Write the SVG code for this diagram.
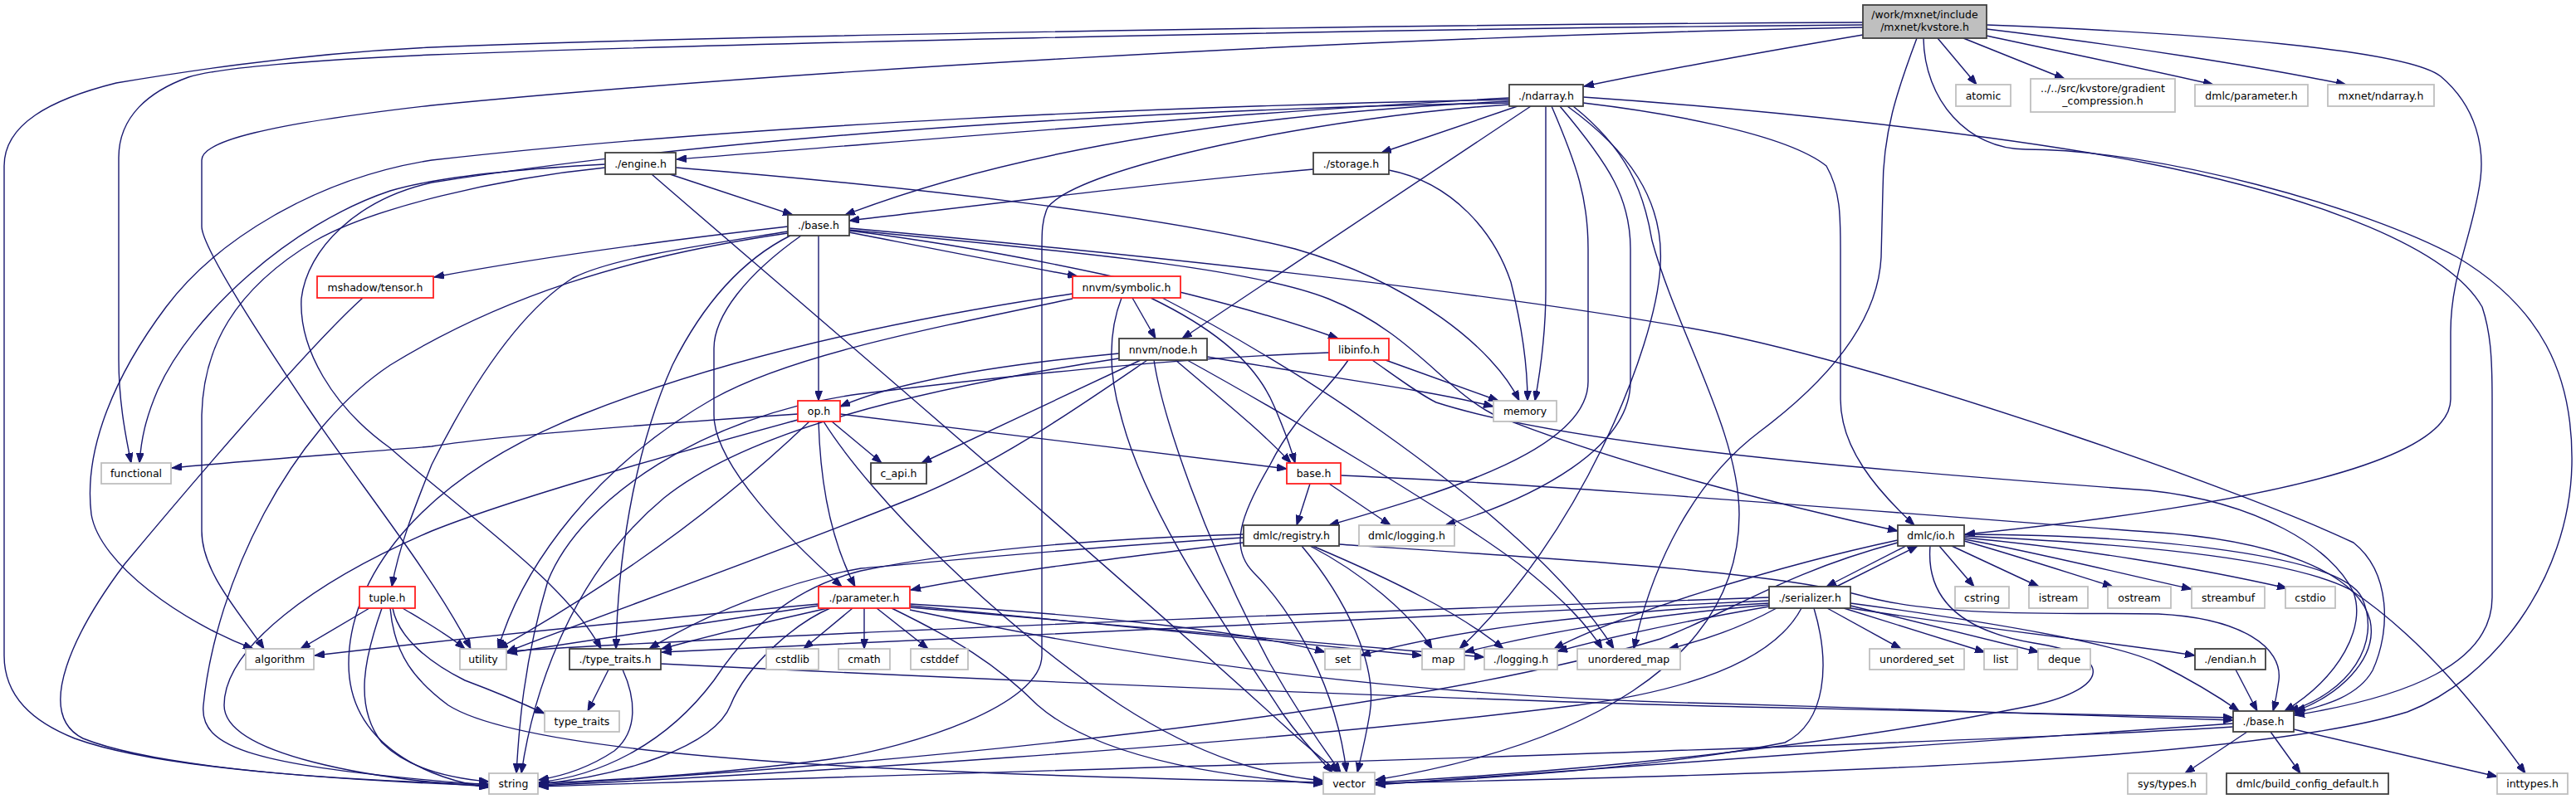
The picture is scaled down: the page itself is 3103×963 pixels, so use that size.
<svg xmlns="http://www.w3.org/2000/svg" width="3103" height="963" viewBox="0 0 3103 963">
<defs>
<marker id="a" markerUnits="userSpaceOnUse" markerWidth="13" markerHeight="9" refX="12" refY="4.5" orient="auto"><path d="M0,0 L12,4.5 L0,9 z" fill="#191970" stroke="#191970" stroke-width="1"/></marker>
<style>
.e path{fill:none;stroke:#191970;stroke-width:1.4;marker-end:url(#a)}
.n rect{fill:#fff;stroke-width:1.8}
.k rect{stroke:#404040}
.r rect{stroke:#ff2020}
.g rect{stroke:#bfbfbf}
.root rect{fill:#bfbfbf;stroke:#404040}
text{font-family:"DejaVu Sans","Liberation Sans",sans-serif;font-size:12.5px;text-anchor:middle;fill:#000}
</style>
</defs>
<rect width="3103" height="963" fill="#fff"/>
<g id="edges" class="e">
<path d="M2244,42 C2150,58 2000,85 1908,104"/>
<path d="M2334,46 L2381,102"/>
<path d="M2365,46 L2487,95"/>
<path d="M2393,43 C2480,62 2580,82 2666,102"/>
<path d="M2393,35 C2560,55 2720,80 2826,102"/>
<path d="M2393,30 C2650,40 2900,60 2940,92 C2985,130 2992,180 2988,215 C2980,280 2952,330 2952,400 L2952,481 C2952,560 2700,610 2367,644"/>
<path d="M2317,46 C2318,120 2370,180 2440,180 C2600,180 2850,250 2960,310 C3060,370 3100,450 3098,560 C3095,700 3000,820 2900,858 C2700,920 2100,935 1657,944"/>
<path d="M2309,46 C2285,110 2268,160 2268,230 L2266,310 C2262,390 2200,460 2120,520 C2040,580 1990,680 1968,782"/>
<path d="M2244,27 C1600,30 800,45 520,57 C350,65 200,90 140,100 C60,120 5,150 5,200 L5,790 C5,840 40,870 90,890 C200,930 450,942 589,945"/>
<path d="M2244,30 C1600,35 800,55 520,66 C380,72 260,82 227,93 C180,110 143,140 143,190 L143,433 C143,480 150,520 158,558"/>
<path d="M2244,33 C1600,45 900,90 520,127 C320,150 243,170 243,193 L243,273 C243,300 330,430 370,490 C430,580 520,690 567,782"/>
<path d="M1828,128 L1664,184"/>
<path d="M1818,118 C1500,135 1100,170 815,192"/>
<path d="M1818,122 C1550,135 1250,170 1018,259"/>
<path d="M1844,128 L1424,408"/>
<path d="M1862,128 L1862,350 C1862,400 1855,450 1849,483"/>
<path d="M1869,128 C1900,200 1913,240 1913,300 L1913,460 C1913,540 1750,590 1601,633"/>
<path d="M1879,128 C1940,200 1964,240 1964,300 L1964,460 C1964,540 1850,600 1741,633"/>
<path d="M1888,128 C1960,180 2005,240 2000,320 C1995,420 1900,650 1758,782"/>
<path d="M1895,128 C1960,180 1980,230 1990,290 C2020,400 2095,520 2095,620 C2095,800 1900,900 1657,940"/>
<path d="M1907,124 C2000,135 2150,160 2200,200 C2217,230 2217,260 2217,300 L2217,481 C2217,540 2260,590 2306,633"/>
<path d="M1907,117 C2100,130 2400,160 2588,197 C2800,240 2950,300 2990,370 C3000,400 3002,430 3002,480 L3002,720 C3002,800 2900,840 2764,862"/>
<path d="M1818,126 C1600,140 1300,200 1262,250 C1255,265 1255,280 1255,300 L1255,790 C1255,850 1100,900 1000,915 C850,935 700,942 649,944"/>
<path d="M1818,120 C1400,128 900,150 520,193 C380,215 260,290 200,370 C140,450 100,540 110,620 C120,680 220,750 305,782"/>
<path d="M1818,124 C1400,132 900,160 520,220 C430,240 370,300 363,360 C360,420 400,490 470,540 C560,620 680,700 724,782"/>
<path d="M807,210 L955,259"/>
<path d="M814,202 C1100,225 1400,260 1560,300 C1700,340 1800,420 1830,483"/>
<path d="M785,210 C900,310 1300,650 1554,881 C1580,905 1600,920 1612,931"/>
<path d="M729,198 C600,205 520,215 470,230 C350,270 230,380 190,470 C175,505 170,530 168,558"/>
<path d="M729,202 C600,215 450,250 380,290 C280,350 245,420 243,500 L243,640 C243,690 290,740 318,782"/>
<path d="M986,284 L986,483"/>
<path d="M949,273 C800,290 650,310 523,334"/>
<path d="M949,279 C850,295 740,310 690,335 C620,380 560,480 520,560 C500,610 480,660 472,707"/>
<path d="M949,281 C750,310 600,360 470,440 C350,520 260,700 245,850 C240,900 300,925 589,946"/>
<path d="M952,284 C900,310 850,360 810,440 C770,530 745,650 742,782"/>
<path d="M965,284 C900,330 860,380 860,420 L860,500 C860,560 950,650 1014,707"/>
<path d="M1023,280 C1100,295 1200,315 1298,333"/>
<path d="M1023,278 C1200,300 1450,350 1612,408"/>
<path d="M1023,275 C1300,300 1800,350 2071,402 C2300,450 2700,590 2835,654 C2880,690 2880,760 2858,808 C2840,840 2800,850 2763,860"/>
<path d="M1023,277 C1250,300 1500,320 1600,360 C1700,400 1740,470 1800,500 C1950,560 2150,610 2286,640"/>
<path d="M1582,204 C1400,220 1200,245 1023,266"/>
<path d="M1673,205 C1750,220 1800,280 1820,340 C1835,400 1840,450 1840,483"/>
<path d="M437,359 C380,410 250,560 150,680 C90,760 40,860 100,890 C200,930 450,942 589,947"/>
<path d="M1364,359 L1392,408"/>
<path d="M1292,354 C1050,390 850,440 700,500 C500,580 420,700 420,800 C420,900 520,940 589,949"/>
<path d="M1292,360 C1100,400 950,430 860,480 C720,560 630,680 600,782"/>
<path d="M1351,359 C1335,400 1335,450 1350,500 C1380,620 1480,760 1545,860 C1570,895 1590,915 1605,931"/>
<path d="M1386,359 C1450,390 1510,430 1535,490 C1548,520 1555,540 1560,558"/>
<path d="M1400,359 C1480,400 1580,460 1650,510 C1750,580 1880,680 1944,782"/>
<path d="M1348,426 C1200,440 1080,460 1012,490"/>
<path d="M1374,434 L1110,558"/>
<path d="M1382,434 C1300,490 1200,560 1100,600 C900,680 700,750 610,786"/>
<path d="M1348,432 C1100,470 900,520 800,600 C680,700 640,850 628,932"/>
<path d="M1454,430 C1600,455 1720,470 1799,490"/>
<path d="M1390,434 C1400,500 1450,650 1530,800 C1570,870 1600,910 1615,931"/>
<path d="M1416,434 C1470,480 1520,520 1555,558"/>
<path d="M1430,434 C1550,500 1750,620 1830,680 C1880,720 1910,750 1930,782"/>
<path d="M1669,434 L1805,483"/>
<path d="M1653,434 C1690,460 1710,475 1730,485 C1900,540 2300,570 2588,591 C2720,605 2810,660 2835,714 C2850,755 2820,815 2752,857"/>
<path d="M1601,425 C1400,432 1200,455 1034,475 C850,500 700,600 660,700 C630,800 625,880 622,932"/>
<path d="M1624,434 C1600,470 1560,500 1530,560 C1495,620 1480,660 1510,690 C1560,740 1610,830 1622,931"/>
<path d="M961,499 C800,510 600,525 520,538 C400,548 300,555 207,564"/>
<path d="M961,506 C800,550 620,600 520,640 C380,700 270,780 270,850 C270,910 450,940 589,948"/>
<path d="M975,508 C900,580 780,680 600,782"/>
<path d="M986,508 C988,580 1000,650 1030,707"/>
<path d="M1002,508 L1062,558"/>
<path d="M992,508 C1050,600 1200,750 1350,850 C1450,915 1530,935 1594,941"/>
<path d="M1012,499 L1550,565"/>
<path d="M986,728 C800,745 550,770 379,790"/>
<path d="M986,730 C850,750 720,770 611,787"/>
<path d="M997,733 C920,750 860,765 797,782"/>
<path d="M1000,733 C960,750 900,800 880,850 C860,900 750,935 649,945"/>
<path d="M1027,733 L968,782"/>
<path d="M1041,733 L1041,782"/>
<path d="M1056,733 L1118,782"/>
<path d="M1074,733 C1150,770 1200,800 1250,850 C1330,920 1500,938 1594,945"/>
<path d="M1096,728 C1300,740 1500,760 1596,786"/>
<path d="M1096,730 C1350,755 1600,780 1713,790"/>
<path d="M1096,732 C1400,760 1650,780 1788,792"/>
<path d="M1096,735 C1400,800 1700,840 2071,848 C2300,855 2550,862 2690,868"/>
<path d="M1498,654 C1350,672 1200,690 1097,711"/>
<path d="M1498,644 C1300,650 1150,665 1037,688 C950,710 900,760 860,820 C800,900 720,935 649,943"/>
<path d="M1498,648 C1300,660 1150,675 1037,685 C950,700 850,740 782,782"/>
<path d="M1568,658 C1620,720 1660,800 1650,860 C1645,890 1640,910 1635,931"/>
<path d="M1578,658 C1640,690 1700,740 1725,782"/>
<path d="M1581,658 C1680,700 1760,740 1811,782"/>
<path d="M1613,656 C1900,675 2150,690 2250,720 C2350,745 2500,738 2600,740 C2700,745 2750,780 2745,820 C2742,840 2740,850 2738,857"/>
<path d="M1578,583 L1562,633"/>
<path d="M1601,583 L1675,633"/>
<path d="M1615,573 C1900,585 2300,620 2588,641 C2740,650 2840,690 2855,748 C2865,795 2815,840 2765,857"/>
<path d="M2296,658 L2200,707"/>
<path d="M2336,658 L2378,707"/>
<path d="M2351,658 L2456,707"/>
<path d="M2366,652 C2430,670 2490,690 2545,707"/>
<path d="M2366,650 C2450,665 2550,690 2640,710"/>
<path d="M2366,648 C2500,660 2650,685 2755,709"/>
<path d="M2366,646 C2550,655 2750,670 2830,710 C2920,770 2990,860 3042,932"/>
<path d="M2366,644 C2600,645 2820,670 2845,720 C2870,775 2830,835 2757,857"/>
<path d="M2286,651 C2150,680 1950,740 1872,782"/>
<path d="M2286,654 C2150,690 2080,740 2000,770 C1700,860 1100,920 649,946"/>
<path d="M2325,658 C2320,720 2360,760 2450,775 C2550,790 2540,830 2450,850 C2200,900 1900,930 1657,943"/>
<path d="M2212,707 L2310,658"/>
<path d="M2201,733 L2290,782"/>
<path d="M2221,733 L2391,786"/>
<path d="M2229,730 L2456,786"/>
<path d="M2229,727 C2400,750 2550,775 2600,800 C2650,825 2680,845 2697,857"/>
<path d="M2229,733 C2400,760 2550,775 2644,790"/>
<path d="M2170,733 C2140,790 2050,830 1900,850 C1500,900 900,935 649,947"/>
<path d="M2185,733 C2205,800 2200,870 2150,895 C2000,925 1800,938 1657,945"/>
<path d="M2131,720 C1700,735 1000,760 611,785"/>
<path d="M2131,724 C1700,745 1100,770 797,786"/>
<path d="M2131,727 C1900,740 1750,760 1639,790"/>
<path d="M2131,729 C1950,745 1850,765 1764,786"/>
<path d="M2131,731 C2050,745 1950,765 1876,785"/>
<path d="M2140,733 C2100,755 2060,770 2010,782"/>
<path d="M2693,807 L2719,857"/>
<path d="M2707,882 L2632,932"/>
<path d="M2735,882 L2771,932"/>
<path d="M2763,879 L3008,936"/>
<path d="M2690,876 C2300,900 1200,930 649,948"/>
<path d="M2690,872 C2400,890 1900,930 1657,946"/>
<path d="M733,807 L708,857"/>
<path d="M750,807 C765,840 770,880 740,905 C710,925 680,935 649,940"/>
<path d="M796,800 C1200,820 1800,845 2100,852 C2400,858 2600,862 2690,865"/>
<path d="M445,733 L362,782"/>
<path d="M485,733 C510,748 540,765 560,782"/>
<path d="M473,733 C480,770 520,800 560,820 C600,835 630,848 656,860"/>
<path d="M470,733 C475,790 500,820 540,850 C650,920 1200,935 1594,943"/>
<path d="M460,733 C440,790 425,850 460,895 C490,925 540,938 589,942"/>
</g>
<g id="kvstore" class="n root"><rect x="2244" y="6" width="149" height="40"/><text x="2318.5" y="21.5">/work/mxnet/include</text><text x="2318.5" y="36.5">/mxnet/kvstore.h</text></g>
<g id="ndarray" class="n k"><rect x="1818" y="102" width="89" height="26"/><text x="1862.5" y="119.5">./ndarray.h</text></g>
<g id="atomic" class="n g"><rect x="2356" y="102" width="66" height="26"/><text x="2389" y="119.5">atomic</text></g>
<g id="gradient" class="n g"><rect x="2446" y="95" width="174" height="40"/><text x="2533" y="110.5">../../src/kvstore/gradient</text><text x="2533" y="125.5">_compression.h</text></g>
<g id="dmlc_parameter" class="n g"><rect x="2644" y="102" width="136" height="26"/><text x="2712" y="119.5">dmlc/parameter.h</text></g>
<g id="mxnet_ndarray" class="n g"><rect x="2804" y="102" width="128" height="26"/><text x="2868" y="119.5">mxnet/ndarray.h</text></g>
<g id="engine" class="n k"><rect x="729" y="184" width="85" height="26"/><text x="771.5" y="201.5">./engine.h</text></g>
<g id="storage" class="n k"><rect x="1582" y="184" width="91" height="26"/><text x="1627.5" y="201.5">./storage.h</text></g>
<g id="mxnet_base" class="n k"><rect x="949" y="259" width="74" height="25"/><text x="986" y="276">./base.h</text></g>
<g id="mshadow" class="n r"><rect x="382" y="333" width="140" height="26"/><text x="452" y="350.5">mshadow/tensor.h</text></g>
<g id="symbolic" class="n r"><rect x="1292" y="333" width="130" height="26"/><text x="1357" y="350.5">nnvm/symbolic.h</text></g>
<g id="node" class="n k"><rect x="1348" y="408" width="106" height="26"/><text x="1401" y="425.5">nnvm/node.h</text></g>
<g id="libinfo" class="n r"><rect x="1601" y="408" width="72" height="26"/><text x="1637" y="425.5">libinfo.h</text></g>
<g id="memory" class="n g"><rect x="1799" y="483" width="76" height="25"/><text x="1837" y="500">memory</text></g>
<g id="op" class="n r"><rect x="961" y="483" width="51" height="25"/><text x="986.5" y="500">op.h</text></g>
<g id="functional" class="n g"><rect x="122" y="558" width="84" height="25"/><text x="164" y="575">functional</text></g>
<g id="c_api" class="n k"><rect x="1049" y="558" width="67" height="25"/><text x="1082.5" y="575">c_api.h</text></g>
<g id="nnvm_base" class="n r"><rect x="1550" y="558" width="65" height="25"/><text x="1582.5" y="575">base.h</text></g>
<g id="tuple" class="n r"><rect x="433" y="707" width="67" height="26"/><text x="466.5" y="724.5">tuple.h</text></g>
<g id="io" class="n k"><rect x="2286" y="633" width="80" height="25"/><text x="2326" y="650">dmlc/io.h</text></g>
<g id="registry" class="n k"><rect x="1498" y="633" width="115" height="25"/><text x="1555.5" y="650">dmlc/registry.h</text></g>
<g id="dmlc_logging" class="n g"><rect x="1637" y="633" width="115" height="25"/><text x="1694.5" y="650">dmlc/logging.h</text></g>
<g id="parameter" class="n r"><rect x="986" y="707" width="110" height="26"/><text x="1041" y="724.5">./parameter.h</text></g>
<g id="serializer" class="n k"><rect x="2131" y="707" width="98" height="26"/><text x="2180" y="724.5">./serializer.h</text></g>
<g id="cstring" class="n g"><rect x="2355" y="707" width="65" height="26"/><text x="2387.5" y="724.5">cstring</text></g>
<g id="istream" class="n g"><rect x="2444" y="707" width="71" height="26"/><text x="2479.5" y="724.5">istream</text></g>
<g id="ostream" class="n g"><rect x="2539" y="707" width="76" height="26"/><text x="2577" y="724.5">ostream</text></g>
<g id="streambuf" class="n g"><rect x="2640" y="707" width="88" height="26"/><text x="2684" y="724.5">streambuf</text></g>
<g id="cstdio" class="n g"><rect x="2753" y="707" width="60" height="26"/><text x="2783" y="724.5">cstdio</text></g>
<g id="algorithm" class="n g"><rect x="296" y="782" width="82" height="25"/><text x="337" y="799">algorithm</text></g>
<g id="utility" class="n g"><rect x="554" y="782" width="56" height="25"/><text x="582" y="799">utility</text></g>
<g id="type_traits_h" class="n k"><rect x="686" y="782" width="110" height="25"/><text x="741" y="799">./type_traits.h</text></g>
<g id="cstdlib" class="n g"><rect x="923" y="782" width="63" height="25"/><text x="954.5" y="799">cstdlib</text></g>
<g id="cmath" class="n g"><rect x="1010" y="782" width="62" height="25"/><text x="1041" y="799">cmath</text></g>
<g id="cstddef" class="n g"><rect x="1097" y="782" width="69" height="25"/><text x="1131.5" y="799">cstddef</text></g>
<g id="set" class="n g"><rect x="1596" y="782" width="43" height="25"/><text x="1617.5" y="799">set</text></g>
<g id="map" class="n g"><rect x="1713" y="782" width="51" height="25"/><text x="1738.5" y="799">map</text></g>
<g id="logging" class="n g"><rect x="1788" y="782" width="88" height="25"/><text x="1832" y="799">./logging.h</text></g>
<g id="unordered_map" class="n g"><rect x="1900" y="782" width="124" height="25"/><text x="1962" y="799">unordered_map</text></g>
<g id="unordered_set" class="n g"><rect x="2252" y="782" width="114" height="25"/><text x="2309" y="799">unordered_set</text></g>
<g id="list" class="n g"><rect x="2390" y="782" width="40" height="25"/><text x="2410" y="799">list</text></g>
<g id="deque" class="n g"><rect x="2455" y="782" width="63" height="25"/><text x="2486.5" y="799">deque</text></g>
<g id="endian" class="n k"><rect x="2644" y="782" width="85" height="25"/><text x="2686.5" y="799">./endian.h</text></g>
<g id="type_traits" class="n g"><rect x="656" y="857" width="90" height="25"/><text x="701" y="874">type_traits</text></g>
<g id="dmlc_base" class="n k"><rect x="2690" y="857" width="73" height="25"/><text x="2726.5" y="874">./base.h</text></g>
<g id="string" class="n g"><rect x="589" y="932" width="59" height="25"/><text x="618.5" y="949">string</text></g>
<g id="vector" class="n g"><rect x="1594" y="931" width="62" height="26"/><text x="1625" y="948.5">vector</text></g>
<g id="sys_types" class="n g"><rect x="2563" y="932" width="95" height="25"/><text x="2610.5" y="949">sys/types.h</text></g>
<g id="build_config" class="n k"><rect x="2682" y="932" width="195" height="25"/><text x="2779.5" y="949">dmlc/build_config_default.h</text></g>
<g id="inttypes" class="n g"><rect x="3008" y="932" width="85" height="25"/><text x="3050.5" y="949">inttypes.h</text></g>
</svg>
